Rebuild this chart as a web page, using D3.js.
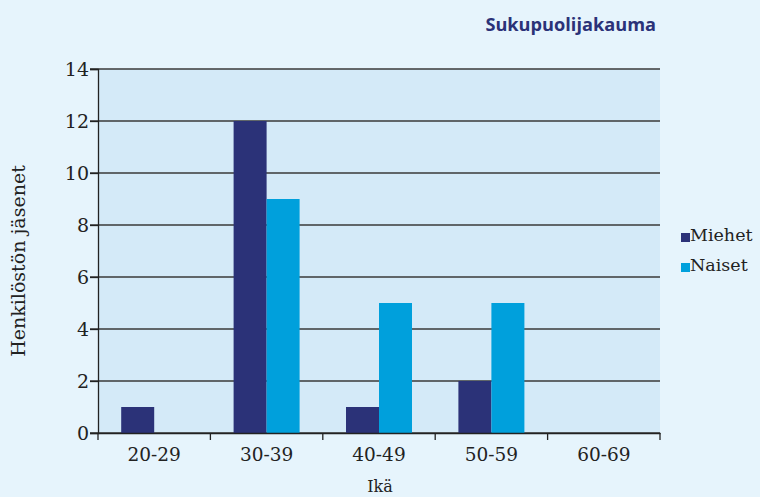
<!DOCTYPE html>
<html><head><meta charset="utf-8">
<script src="https://cdn.jsdelivr.net/npm/d3@7"></script>
<style>body{margin:0;background:#e6f4fc}svg{display:block}</style>
</head><body>
<script>
const categories = ["20-29","30-39","40-49","50-59","60-69"];
const seriesNames = ["Miehet","Naiset"];
const miehet = [1,12,1,2,0];
const naiset = [0,9,5,5,0];
const yTicks = [0,2,4,6,8,10,12,14];
const colors = ["#2b3278","#00a0dc"];

const W=760,H=497;
const svg=d3.select("body").append("svg").attr("width",W).attr("height",H);
svg.append("rect").attr("width",W).attr("height",H).attr("fill","#e6f4fc");
const L=98,R=660,T=69,B=433;
const x=d3.scaleBand().domain(categories).range([L,R]);
const y=d3.scaleLinear().domain([0,14]).range([B,T]);
const serif="'DejaVu Serif',serif";

svg.append("rect").attr("x",L).attr("y",T).attr("width",R-L).attr("height",B-T).attr("fill","#d4eaf8");

// grid
svg.append("g").selectAll("line").data(yTicks).join("line")
 .attr("x1",L-8).attr("x2",R).attr("y1",d=>y(d)).attr("y2",d=>y(d))
 .attr("stroke","#3a3a3a").attr("stroke-width",1.3);

const bw=33;
const data=[miehet,naiset];
data.forEach((vals,si)=>{
  svg.append("g").selectAll("rect").data(categories).join("rect")
   .attr("x",(c)=>x(c)+x.bandwidth()/2+(si-1)*bw)
   .attr("width",bw)
   .attr("y",(c,i)=>y(vals[i]))
   .attr("height",(c,i)=>y(0)-y(vals[i]))
   .attr("fill",colors[si]);
});

// y axis
const ya=svg.append("g").attr("transform",`translate(${L},0)`)
 .call(d3.axisLeft(y).tickValues(yTicks).tickSize(8).tickPadding(1));
ya.select(".domain").attr("stroke","#222").attr("stroke-width",1.3);
ya.selectAll(".tick line").attr("stroke","#222").attr("stroke-width",1.3);
ya.selectAll("text").attr("font-family",serif).attr("font-size",19).attr("fill","#222");

// x axis
const xa=svg.append("g").attr("transform",`translate(0,${B})`)
 .call(d3.axisBottom(x).tickSize(0).tickPadding(11));
xa.select(".domain").attr("stroke","#222").attr("stroke-width",1.3);
xa.selectAll("text").attr("font-family",serif).attr("font-size",18.5).attr("fill","#222").attr("dy","0.9em");
const bounds=categories.map(c=>x(c)).concat([R]);
svg.append("g").selectAll("line").data(bounds).join("line")
 .attr("x1",d=>d).attr("x2",d=>d).attr("y1",B).attr("y2",B+7)
 .attr("stroke","#222").attr("stroke-width",1.3);

// labels
svg.append("text").attr("x",380).attr("y",492).attr("text-anchor","middle")
 .attr("font-family",serif).attr("font-size",16).attr("fill","#222").text("Ikä");
svg.append("text").attr("transform","translate(25,261) rotate(-90)").attr("text-anchor","middle")
 .attr("font-family",serif).attr("font-size",19).attr("fill","#222").text("Henkilöstön jäsenet");

svg.append("text").attr("x",656).attr("y",31).attr("text-anchor","end")
 .attr("font-family","'Open Sans',sans-serif").attr("font-weight","bold").attr("font-size",18.2)
 .attr("fill","#2b3278").text("Sukupuolijakauma");

// legend
const lg=svg.append("g").selectAll("g").data(seriesNames).join("g")
 .attr("transform",(d,i)=>`translate(681,${233+i*30})`);
lg.append("rect").attr("width",9).attr("height",9).attr("fill",(d,i)=>colors[i]);
lg.append("text").attr("x",9).attr("y",8).attr("font-family",serif).attr("font-size",17.5)
 .attr("fill","#222").text(d=>d);
</script>
</body></html>
